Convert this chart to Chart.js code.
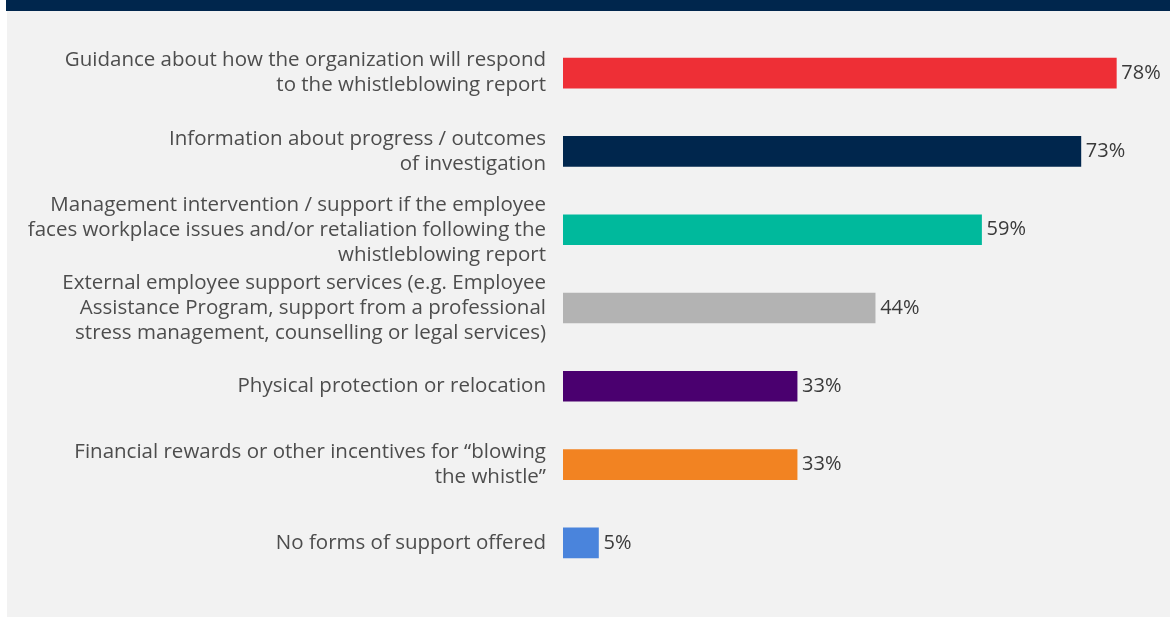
<!DOCTYPE html>
<html>
<head>
<meta charset="utf-8">
<script src="https://cdn.jsdelivr.net/npm/chart.js@4"></script>
<style>
  html, body { margin: 0; padding: 0; background: #ffffff; }
  #wrap { position: relative; width: 1170px; height: 619px; overflow: hidden; }
  #topbar { position: absolute; left: 6px; top: 0; width: 1164px; height: 11px; background: #00264d; }
  #panel { position: absolute; left: 7px; top: 11px; width: 1163px; height: 606px; background: #f2f2f2; }
  #chart { position: absolute; left: 0; top: 0; }
</style>
</head>
<body>
<div id="wrap">
  <div id="topbar"></div>
  <div id="panel"></div>
  <canvas id="chart" width="1170" height="619"></canvas>
</div>
<script>
// support types, one line per array entry
const categories = [
  ["Guidance about how the organization will respond", "to the whistleblowing report"],
  ["Information about progress / outcomes", "of investigation"],
  ["Management intervention / support if the employee", "faces workplace issues and/or retaliation following the", "whistleblowing report"],
  ["External employee support services (e.g. Employee", "Assistance Program, support from a professional", "stress management, counselling or legal services)"],
  ["Physical protection or relocation"],
  ["Financial rewards or other incentives for \u201cblowing", "the whistle\u201d"],
  ["No forms of support offered"],
];
const shares = [78, 73, 59, 44, 33, 33, 5];
const barColors = ["#ee2f36", "#00264d", "#00b99c", "#b3b3b3", "#4a006f", "#f28322", "#4a84dc"];

const fontFamily = "'Open Sans', sans-serif";

// writes "NN%" just past the end of each bar
const valueLabels = {
  id: "valueLabels",
  afterDatasetsDraw(chart) {
    const ctx = chart.ctx;
    const meta = chart.getDatasetMeta(0);
    ctx.save();
    ctx.font = `20px ${fontFamily}`;
    ctx.fillStyle = "#3a3a3a";
    ctx.textAlign = "left";
    ctx.textBaseline = "middle";
    meta.data.forEach((bar, i) => {
      ctx.fillText(`${shares[i]}%`, bar.x + 5, bar.y);
    });
    ctx.restore();
  },
};

const ctx = document.getElementById("chart").getContext("2d");
const supportChart = new Chart(ctx, {
  type: "bar",
  data: {
    labels: categories,
    datasets: [
      {
        data: shares,
        backgroundColor: barColors,
        borderWidth: 0,
        barThickness: 30,
      },
    ],
  },
  options: {
    indexAxis: "y",
    responsive: false,
    animation: false,
    layout: { padding: { top: 34, bottom: 37, left: 0, right: 4 } },
    plugins: {
      legend: { display: false },
      tooltip: { enabled: false },
    },
    scales: {
      x: {
        min: 0,
        max: 85,
        display: false,
      },
      y: {
        grid: { display: false, drawTicks: false, tickLength: 0 },
        border: { display: false },
        ticks: {
          color: "#4d4d4d",
          padding: 17,
          font: { family: fontFamily, size: 20.5, lineHeight: 1.22 },
        },
        afterFit(scale) {
          // fixed gutter for the labels; no extra room for tall first/last labels
          scale.width = 563;
          scale.paddingTop = 0;
          scale.paddingBottom = 0;
        },
      },
    },
  },
  plugins: [valueLabels],
});
</script>
</body>
</html>
